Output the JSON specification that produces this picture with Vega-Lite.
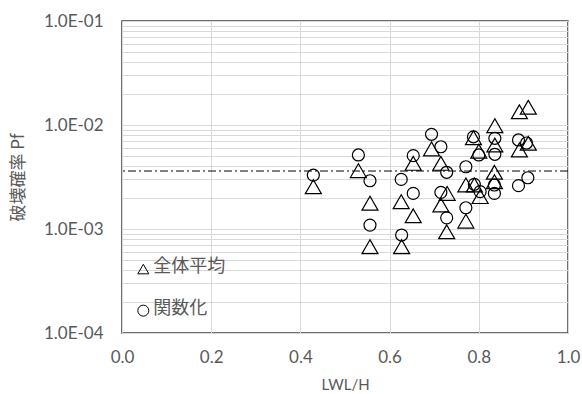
{
  "$schema": "https://vega.github.io/schema/vega-lite/v6.json",
  "width": 446,
  "height": 312,
  "autosize": {"type": "none"},
  "padding": {"left": 122, "top": 21, "right": 14, "bottom": 61},
  "background": "white",
  "config": {
    "view": {"stroke": "#404040", "strokeWidth": 1.5},
    "axis": {
      "labelFont": "Lato",
      "labelFontSize": 17,
      "labelColor": "#595959",
      "titleColor": "#595959",
      "titleFontWeight": "normal",
      "gridColor": "#d9d9d9",
      "gridWidth": 1,
      "domain": false,
      "ticks": false,
      "labelFlush": false
    }
  },
  "datasets": {
    "pts": [
      {"lwlh": 0.429, "pf": 0.00255, "series": "全体平均"},
      {"lwlh": 0.530, "pf": 0.00364, "series": "全体平均"},
      {"lwlh": 0.556, "pf": 0.00177, "series": "全体平均"},
      {"lwlh": 0.556, "pf": 0.000676, "series": "全体平均"},
      {"lwlh": 0.626, "pf": 0.00183, "series": "全体平均"},
      {"lwlh": 0.627, "pf": 0.000676, "series": "全体平均"},
      {"lwlh": 0.653, "pf": 0.00428, "series": "全体平均"},
      {"lwlh": 0.653, "pf": 0.00134, "series": "全体平均"},
      {"lwlh": 0.694, "pf": 0.00588, "series": "全体平均"},
      {"lwlh": 0.715, "pf": 0.00428, "series": "全体平均"},
      {"lwlh": 0.729, "pf": 0.0022, "series": "全体平均"},
      {"lwlh": 0.715, "pf": 0.0017, "series": "全体平均"},
      {"lwlh": 0.728, "pf": 0.00094, "series": "全体平均"},
      {"lwlh": 0.771, "pf": 0.00265, "series": "全体平均"},
      {"lwlh": 0.771, "pf": 0.00119, "series": "全体平均"},
      {"lwlh": 0.788, "pf": 0.00755, "series": "全体平均"},
      {"lwlh": 0.800, "pf": 0.0056, "series": "全体平均"},
      {"lwlh": 0.790, "pf": 0.00265, "series": "全体平均"},
      {"lwlh": 0.803, "pf": 0.00205, "series": "全体平均"},
      {"lwlh": 0.836, "pf": 0.00985, "series": "全体平均"},
      {"lwlh": 0.836, "pf": 0.00642, "series": "全体平均"},
      {"lwlh": 0.835, "pf": 0.00351, "series": "全体平均"},
      {"lwlh": 0.835, "pf": 0.00285, "series": "全体平均"},
      {"lwlh": 0.891, "pf": 0.0134, "series": "全体平均"},
      {"lwlh": 0.911, "pf": 0.0148, "series": "全体平均"},
      {"lwlh": 0.891, "pf": 0.00575, "series": "全体平均"},
      {"lwlh": 0.911, "pf": 0.00667, "series": "全体平均"},
      {"lwlh": 0.429, "pf": 0.0033, "series": "関数化"},
      {"lwlh": 0.530, "pf": 0.00515, "series": "関数化"},
      {"lwlh": 0.556, "pf": 0.00291, "series": "関数化"},
      {"lwlh": 0.556, "pf": 0.00109, "series": "関数化"},
      {"lwlh": 0.626, "pf": 0.0030, "series": "関数化"},
      {"lwlh": 0.627, "pf": 0.000875, "series": "関数化"},
      {"lwlh": 0.653, "pf": 0.00507, "series": "関数化"},
      {"lwlh": 0.653, "pf": 0.0022, "series": "関数化"},
      {"lwlh": 0.694, "pf": 0.00814, "series": "関数化"},
      {"lwlh": 0.715, "pf": 0.00618, "series": "関数化"},
      {"lwlh": 0.728, "pf": 0.00351, "series": "関数化"},
      {"lwlh": 0.715, "pf": 0.00225, "series": "関数化"},
      {"lwlh": 0.728, "pf": 0.00128, "series": "関数化"},
      {"lwlh": 0.771, "pf": 0.00397, "series": "関数化"},
      {"lwlh": 0.771, "pf": 0.0016, "series": "関数化"},
      {"lwlh": 0.788, "pf": 0.0077, "series": "関数化"},
      {"lwlh": 0.800, "pf": 0.00515, "series": "関数化"},
      {"lwlh": 0.790, "pf": 0.00269, "series": "関数化"},
      {"lwlh": 0.803, "pf": 0.00229, "series": "関数化"},
      {"lwlh": 0.836, "pf": 0.00745, "series": "関数化"},
      {"lwlh": 0.836, "pf": 0.00523, "series": "関数化"},
      {"lwlh": 0.835, "pf": 0.00265, "series": "関数化"},
      {"lwlh": 0.835, "pf": 0.0022, "series": "関数化"},
      {"lwlh": 0.889, "pf": 0.00718, "series": "関数化"},
      {"lwlh": 0.907, "pf": 0.00671, "series": "関数化"},
      {"lwlh": 0.889, "pf": 0.00261, "series": "関数化"},
      {"lwlh": 0.910, "pf": 0.00311, "series": "関数化"}
    ],
    "threshold": [{"pf": 0.00361}],
    "legend": [
      {"sx": 0.0478, "sy": 0.000412, "tx": 0.0703, "ty": 0.000432, "label": "全体平均", "series": "全体平均"},
      {"sx": 0.0478, "sy": 0.000164, "tx": 0.0703, "ty": 0.000172, "label": "関数化", "series": "関数化"}
    ]
  },
  "layer": [
    {
      "data": {"name": "pts"},
      "mark": {"type": "point", "filled": false, "stroke": "black", "strokeWidth": 1.2, "opacity": 1},
      "encoding": {
        "x": {
          "field": "lwlh", "type": "quantitative",
          "scale": {"domain": [0, 1], "nice": false, "zero": false},
          "axis": {
            "title": "LWL/H",
            "titleFont": "Lato",
            "titleFontSize": 15,
            "titleY": 51,
            "titleBaseline": "middle",
            "values": [0, 0.2, 0.4, 0.6, 0.8, 1.0],
            "format": ".1f",
            "labelPadding": 16,
            "grid": true
          }
        },
        "y": {
          "field": "pf", "type": "quantitative",
          "scale": {"type": "log", "domain": [0.0001, 0.1], "nice": false},
          "axis": {
            "title": "破壊確率 Pf",
            "titleFont": "Noto Sans CJK JP",
            "titleFontSize": 17,
            "titleX": -104,
            "titleY": 156,
            "titleBaseline": "middle",
            "labelPadding": 19,
            "grid": true,
            "values": [0.0001, 0.0002, 0.0003, 0.0004, 0.0005, 0.0006, 0.0007, 0.0008, 0.0009,
                       0.001, 0.002, 0.003, 0.004, 0.005, 0.006, 0.007, 0.008, 0.009,
                       0.01, 0.02, 0.03, 0.04, 0.05, 0.06, 0.07, 0.08, 0.09, 0.1],
            "labelExpr": "abs(log(datum.value)/LN10 - round(log(datum.value)/LN10)) < 0.000001 ? '1.0E-0' + round(-log(datum.value)/LN10) : ''"
          }
        },
        "shape": {
          "field": "series", "type": "nominal",
          "scale": {"domain": ["全体平均", "関数化"], "range": ["triangle-up", "circle"]},
          "legend": null
        },
        "size": {
          "field": "series", "type": "nominal",
          "scale": {"domain": ["全体平均", "関数化"], "range": [256, 144]},
          "legend": null
        }
      }
    },
    {
      "data": {"name": "threshold"},
      "mark": {"type": "rule", "color": "black", "strokeWidth": 1, "strokeDash": [8, 3, 2, 3]},
      "encoding": {
        "y": {"field": "pf", "type": "quantitative"}
      }
    },
    {
      "data": {"name": "legend"},
      "mark": {"type": "point", "filled": false, "stroke": "black", "strokeWidth": 1, "opacity": 1},
      "encoding": {
        "x": {"field": "sx", "type": "quantitative"},
        "y": {"field": "sy", "type": "quantitative"},
        "shape": {"field": "series", "type": "nominal", "legend": null},
        "size": {"value": 121}
      }
    },
    {
      "data": {"name": "legend"},
      "mark": {"type": "text", "align": "left", "baseline": "middle", "font": "Noto Sans CJK JP", "fontSize": 18, "color": "#595959"},
      "encoding": {
        "x": {"field": "tx", "type": "quantitative"},
        "y": {"field": "ty", "type": "quantitative"},
        "text": {"field": "label"}
      }
    }
  ]
}
